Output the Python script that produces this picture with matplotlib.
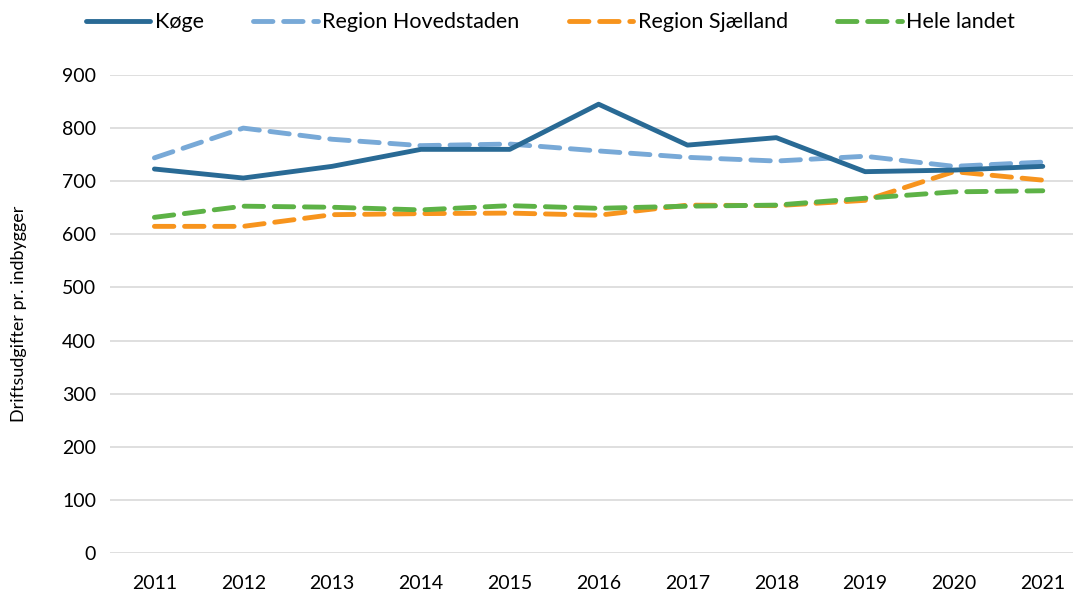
import matplotlib.pyplot as plt

years = ['2011', '2012', '2013', '2014', '2015', '2016', '2017', '2018', '2019', '2020', '2021']
koege = [723, 706, 728, 760, 760, 845, 768, 782, 718, 721, 728]
hovedstaden = [744, 800, 779, 767, 770, 757, 745, 738, 747, 728, 736]
sjaelland = [615, 615, 637, 639, 640, 636, 655, 654, 664, 718, 702]
hele_landet = [632, 653, 651, 646, 654, 649, 653, 655, 668, 680, 682]

plt.rcParams['font.family'] = ['Lato', 'DejaVu Sans']

fig = plt.figure(figsize=(10.73, 5.94), dpi=100)
ax = fig.add_axes([110 / 1073, 1 - 553 / 594, 1 - 110 / 1073, (553 - 75) / 594])

x = list(range(len(years)))
ax.plot(x, koege, color='#296a95', lw=3.5, solid_capstyle='round', label='Køge', zorder=5)
ax.plot(x, hovedstaden, color='#78a9d7', lw=3.5, dashes=(4, 2.2), dash_capstyle='round',
        label='Region Hovedstaden', zorder=4)
ax.plot(x, sjaelland, color='#f7941d', lw=3.5, dashes=(4, 2.2), dash_capstyle='round',
        label='Region Sjælland', zorder=3)
ax.plot(x, hele_landet, color='#5db246', lw=3.5, dashes=(4, 2.2), dash_capstyle='round',
        label='Hele landet', zorder=4)

ax.set_xlim(-0.5, 10.34)
ax.set_ylim(0, 900)
ax.set_yticks(range(0, 901, 100))
ax.set_xticks(x)
ax.set_xticklabels(years)
ax.grid(axis='y', color='#d9d9d9', lw=1.2)
ax.set_axisbelow(True)
for s in ax.spines.values():
    s.set_visible(False)
ax.tick_params(length=0, labelsize=14, colors='black', pad=10)
ax.tick_params(axis='x', pad=16)
ax.set_ylabel('Driftsudgifter pr. indbygger', fontsize=13, labelpad=25)

fig.legend(loc='upper center', bbox_to_anchor=(0.513, 1.012), ncol=4, frameon=False,
           fontsize=15.5, handlelength=3.0, handletextpad=0.2, columnspacing=2.3)

plt.savefig('out.png', dpi=100)
